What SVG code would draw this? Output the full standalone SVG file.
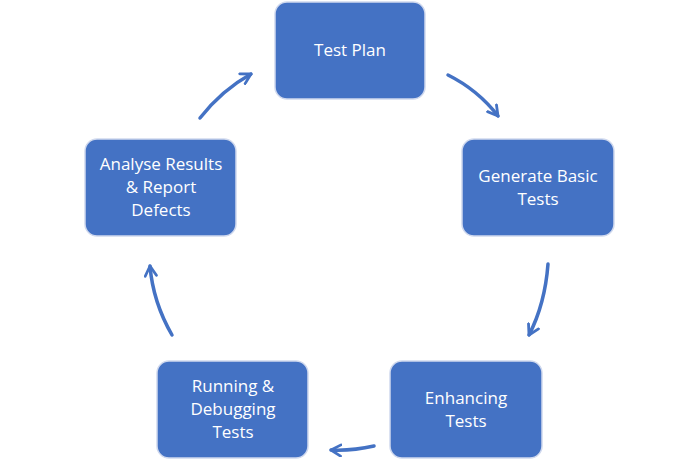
<svg xmlns="http://www.w3.org/2000/svg" width="700" height="467" viewBox="0 0 700 467">
<style>
.box{fill:#4472C4;stroke:#d0d9ee;stroke-width:1.5}
.t{fill:#fff;font-family:"Open Sans","Liberation Sans",sans-serif;font-size:17px;text-anchor:middle}
.c{fill:none;stroke:#4472C4;stroke-width:3.5;stroke-linecap:round;marker-end:url(#a)}
</style>
<defs>
<marker id="a" viewBox="0 0 10 10" refX="8" refY="5" markerWidth="4" markerHeight="4" orient="auto" markerUnits="strokeWidth">
<polyline points="1,1 8,5 1,9" fill="none" stroke="#4472C4" stroke-width="2" stroke-linecap="round" stroke-linejoin="round"/>
</marker>
</defs>
<rect width="700" height="467" fill="#fff"/>
<g id="connectors">
<path class="c" d="M448,75 Q478,90 498,116"/>
<path class="c" d="M548,264 Q545,304 529,335"/>
<path class="c" d="M374,446 Q352,451 331,450"/>
<path class="c" d="M172,335 Q153,302 150,266"/>
<path class="c" d="M200,118 Q222,90 251,74"/>
</g>
<g id="n1"><rect class="box" x="275" y="2" width="150" height="97" rx="12"/><text class="t" x="350" y="56">Test Plan</text></g>
<g id="n2"><rect class="box" x="462" y="139" width="152" height="97" rx="12"/><text class="t" x="538" y="182">Generate Basic</text><text class="t" x="538" y="205">Tests</text></g>
<g id="n3"><rect class="box" x="390" y="361" width="152" height="97" rx="12"/><text class="t" x="466" y="404">Enhancing</text><text class="t" x="466" y="427">Tests</text></g>
<g id="n4"><rect class="box" x="157" y="361" width="151" height="97" rx="12"/><text class="t" x="233" y="392">Running &amp;</text><text class="t" x="233" y="415">Debugging</text><text class="t" x="233" y="438">Tests</text></g>
<g id="n5"><rect class="box" x="85" y="139" width="151" height="97" rx="12"/><text class="t" x="161" y="170">Analyse Results</text><text class="t" x="161" y="193">&amp; Report</text><text class="t" x="161" y="216">Defects</text></g>
</svg>
